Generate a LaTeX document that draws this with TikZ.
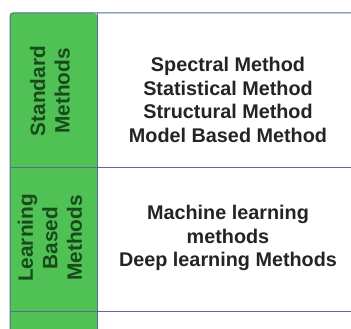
\documentclass[tikz,border=0pt]{standalone}
\usepackage{fontspec}
\setmainfont{Liberation Sans}
\definecolor{cellgreen}{RGB}{80,193,84}
\definecolor{gridline}{RGB}{88,110,145}
\definecolor{labelgreen}{RGB}{24,74,28}
\definecolor{itemgray}{RGB}{36,36,36}
\tikzset{
  grid/.style={draw=gridline, line width=1pt},
  rowlabel/.style={rotate=90, align=center, text=labelgreen, inner sep=0pt,
    font=\bfseries\fontsize{20.8}{24.5}\selectfont},
  itemlist/.style={align=center, text=itemgray, inner sep=0pt,
    font=\bfseries\fontsize{19.8}{23.8}\selectfont}
}
\begin{document}
\begin{tikzpicture}[x=1pt,y=-1pt]
\useasboundingbox (0,0) rectangle (351,329);
\begin{scope}
  \clip (0,0) rectangle (351,329);
  \fill[white] (0,0) rectangle (351,329);
  % green label column
  \fill[cellgreen, rounded corners=3pt] (10,345) -- (10,13) -- (97,13) -- (97,345) -- cycle;
  % table rules
  \draw[grid, rounded corners=3pt] (10,345) -- (10,13) -- (357,13) -- (357,345);
  \draw[grid] (97,13) -- (97,345);
  \draw[grid] (10,167) -- (357,167);
  \draw[grid] (10,311) -- (357,311);
\end{scope}
\node[rowlabel] (std) at (50,91) {Standard\\Methods};
\node[rowlabel] (learn) at (50,238) {Learning\\Based\\Methods};
\node[itemlist] (stdlist) at (228,100) {Spectral Method\\Statistical Method\\Structural Method\\Model Based Method};
\node[itemlist] (learnlist) at (228,238) {Machine learning\\methods\\Deep learning Methods};
\end{tikzpicture}
\end{document}
